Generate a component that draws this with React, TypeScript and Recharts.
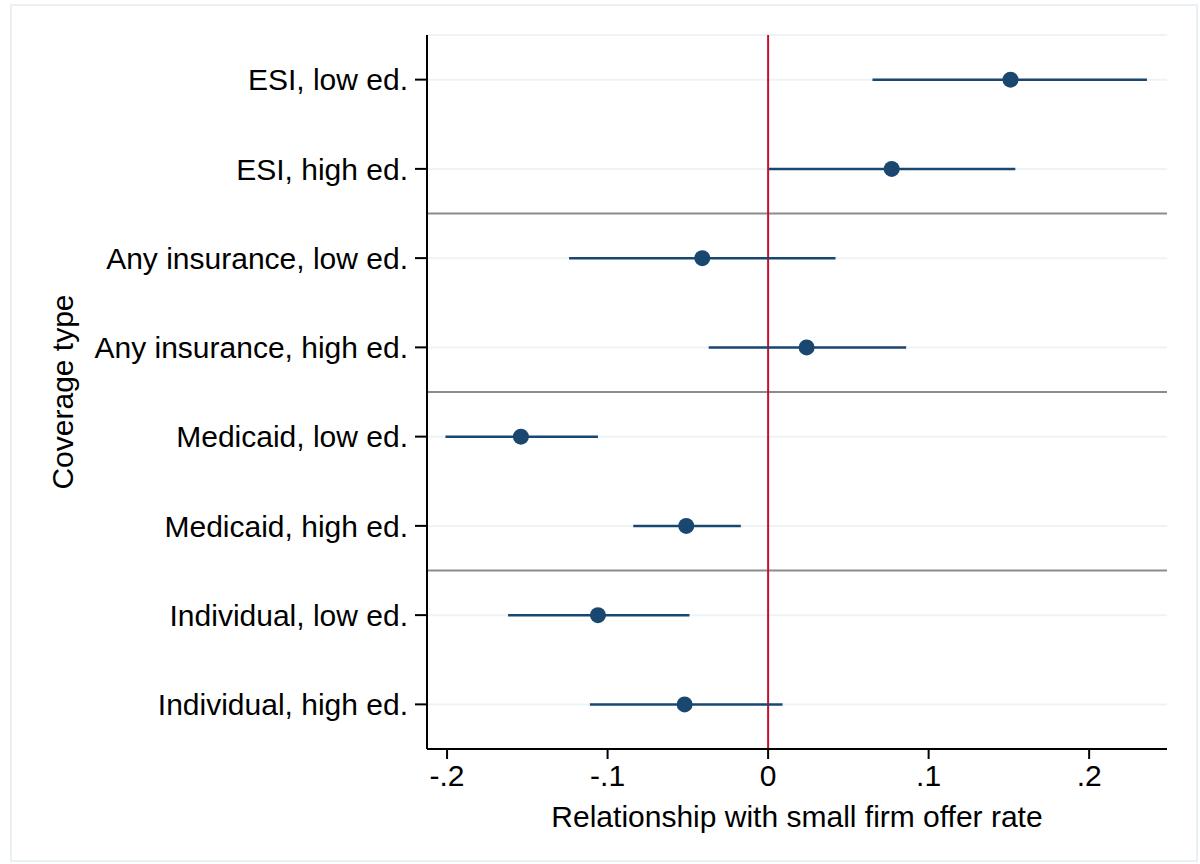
import React from 'react';
import {
  ScatterChart,
  Scatter,
  XAxis,
  YAxis,
  CartesianGrid,
  ReferenceLine,
  ErrorBar,
} from 'recharts';

const labels = [
  'ESI, low ed.',
  'ESI, high ed.',
  'Any insurance, low ed.',
  'Any insurance, high ed.',
  'Medicaid, low ed.',
  'Medicaid, high ed.',
  'Individual, low ed.',
  'Individual, high ed.',
];
const estimates = [0.151, 0.077, -0.041, 0.024, -0.154, -0.051, -0.106, -0.052];
const ciLow = [0.065, 0.0005, -0.124, -0.037, -0.201, -0.084, -0.162, -0.111];
const ciHigh = [0.236, 0.154, 0.042, 0.086, -0.106, -0.017, -0.049, 0.009];
const xTicks = [-0.2, -0.1, 0, 0.1, 0.2];
const xTickLabels = ['-.2', '-.1', '0', '.1', '.2'];
const separators = [2.5, 4.5, 6.5];

const rows = labels.map((label, i) => ({
  label,
  pos: i + 1,
  est: estimates[i],
  err: [estimates[i] - ciLow[i], ciHigh[i] - estimates[i]],
}));

const NAVY = '#1a476f';
const FONT = '"Liberation Sans", Arial, sans-serif';
const FS = 30;

const App: React.FC = () => {
  return (
    <div style={{ position: 'absolute', left: 0, top: 0, width: 1200, height: 864, background: '#fff', fontFamily: FONT }}>
      <div
        style={{
          position: 'absolute',
          left: 10,
          top: 4,
          width: 1184,
          height: 854,
          border: '2px solid #e9f0f3',
        }}
      />
      <div style={{ position: 'absolute', left: 0, top: 0 }}>
        <ScatterChart
          width={1200}
          height={864}
          margin={{ top: 35, right: 33, bottom: 15, left: 10 }}
        >
          <CartesianGrid vertical={false} stroke="#eef3f5" strokeWidth={2} />
          <XAxis
            type="number"
            dataKey="est"
            domain={[-0.2125, 0.2485]}
            ticks={xTicks}
            allowDataOverflow
            tickFormatter={(v: number) => xTickLabels[xTicks.indexOf(v)] ?? String(v)}
            height={100}
            tickSize={10}
            tickMargin={6}
            axisLine={{ stroke: '#000', strokeWidth: 2 }}
            tickLine={{ stroke: '#000', strokeWidth: 2 }}
            tick={{ fill: '#000', fontSize: FS, fontFamily: FONT }}
            label={{
              value: 'Relationship with small firm offer rate',
              position: 'insideBottom',
              offset: 22,
              fill: '#000',
              fontSize: FS,
              fontFamily: FONT,
            }}
          />
          <YAxis
            type="number"
            dataKey="pos"
            domain={[0.5, 8.5]}
            ticks={[1, 2, 3, 4, 5, 6, 7, 8]}
            reversed
            interval={0}
            width={417}
            tickSize={12}
            tickMargin={7}
            tickFormatter={(v: number) => labels[v - 1]}
            axisLine={{ stroke: '#000', strokeWidth: 2 }}
            tickLine={{ stroke: '#000', strokeWidth: 2 }}
            tick={{ fill: '#000', fontSize: FS, fontFamily: FONT }}
            label={{
              value: 'Coverage type',
              angle: -90,
              position: 'insideLeft',
              offset: 52,
              style: { textAnchor: 'middle' },
              fill: '#000',
              fontSize: FS,
              fontFamily: FONT,
            }}
          />
          {separators.map((s) => (
            <ReferenceLine key={s} y={s} stroke="#8c8c8c" strokeWidth={2} />
          ))}
          <ReferenceLine x={0} stroke="#c8102e" strokeWidth={2} />
          <Scatter
            data={rows}
            fill={NAVY}
            isAnimationActive={false}
            shape={(props: any) => <circle cx={props.cx} cy={props.cy} r={8} fill={NAVY} />}
          >
            <ErrorBar
              dataKey="err"
              direction="x"
              width={0}
              stroke={NAVY}
              strokeWidth={2.5}
              isAnimationActive={false}
            />
          </Scatter>
        </ScatterChart>
      </div>
    </div>
  );
};

export default App;
